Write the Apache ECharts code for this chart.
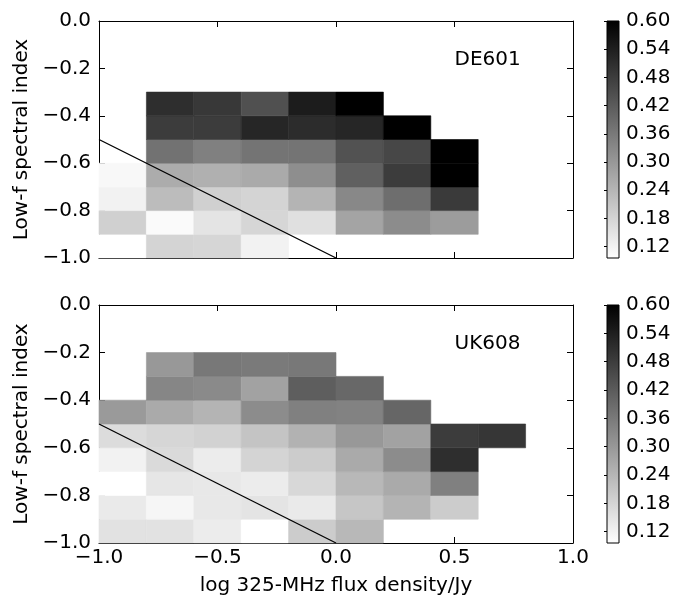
<!DOCTYPE html>
<html><head><meta charset="utf-8">
<script src="https://cdn.jsdelivr.net/npm/echarts@6/dist/echarts.min.js"></script>
<style>html,body{margin:0;padding:0;background:#fff}#c{width:684px;height:597px}</style>
</head><body><div id="c"></div>
<script>
// cell left edges (x) and bottom edges (y)
const xLeftEdges = [-1.0,-0.8,-0.6,-0.4,-0.2,0.0,0.2,0.4,0.6,0.8];
const yBottomEdges = [-1.0,-0.9,-0.8,-0.7,-0.6,-0.5,-0.4,-0.3,-0.2,-0.1];
const cellWidth = 0.2, cellHeight = 0.1;

// DE601: rows by bottom edge (from -1.0 upward), columns by xLeftEdges
const de601Rows = [
  [0.096, 0.181, 0.177, 0.122],
  [0.189, 0.106, 0.149, 0.177, 0.157, 0.276, 0.323, 0.292],
  [0.122, 0.228, 0.189, 0.181, 0.244, 0.331, 0.383, 0.485],
  [0.110, 0.260, 0.252, 0.264, 0.319, 0.410, 0.481, 0.600],
  [null, 0.375, 0.347, 0.371, 0.371, 0.438, 0.460, 0.600],
  [null, 0.481, 0.481, 0.525, 0.513, 0.525, 0.600],
  [null, 0.509, 0.489, 0.442, 0.545, 0.600],
  [], [], []
];
// UK608
const uk608Rows = [
  [0.153, 0.153, 0.134, 0.096, 0.197, 0.236],
  [0.137, 0.114, 0.141, 0.149, 0.137, 0.209, 0.244, 0.197],
  [0.096, 0.145, 0.141, 0.134, 0.173, 0.236, 0.264, 0.347],
  [0.122, 0.169, 0.134, 0.181, 0.197, 0.264, 0.323, 0.509],
  [0.165, 0.177, 0.185, 0.213, 0.248, 0.300, 0.280, 0.481, 0.493],
  [0.296, 0.264, 0.244, 0.323, 0.347, 0.343, 0.398],
  [null, 0.335, 0.327, 0.280, 0.414, 0.394],
  [null, 0.300, 0.363, 0.359, 0.363],
  [], []
];

const colorbarTicks = [0.12, 0.18, 0.24, 0.30, 0.36, 0.42, 0.48, 0.54, 0.60];
const vmin = 0.096, vmax = 0.60;
const panelNames = ['DE601', 'UK608'];
const panelLabelPos = [0.5, -0.165];
const cutLine = [[-1.0, -0.5], [0.0, -1.0]];
const xLabelText = 'log 325-MHz flux density/Jy';
const yLabelText = 'Low-f spectral index';

function cells(rows) {
  const out = [];
  rows.forEach((row, i) => {
    row.forEach((v, j) => {
      if (v != null) out.push([xLeftEdges[j], yBottomEdges[i], v]);
    });
  });
  return out;
}

const FONT = 'DejaVu Sans';
const fmt1 = v => (Math.abs(v) < 1e-9 ? '0.0' : v.toFixed(1)).replace('-', '\u2212');

const grids = [
  {left: 99, top: 21, width: 474, height: 237},
  {left: 99, top: 305, width: 474, height: 238},
  {left: 607, top: 21, width: 12, height: 237},
  {left: 607, top: 305, width: 12, height: 238}
];

const axLine = {show: true, onZero: false, lineStyle: {color: '#000', width: 1}};
const tickIn = {show: true, inside: true, length: 6, lineStyle: {color: '#000', width: 1}};

function xAx(grid, pos, showLabels, name) {
  return {
    type: 'value', gridIndex: grid, position: pos, min: -1, max: 1, interval: 0.5,
    axisLine: axLine, axisTick: tickIn, splitLine: {show: false},
    axisLabel: {show: showLabels, formatter: fmt1, fontFamily: FONT, fontSize: 20, color: '#000', margin: 5},
    name: name || '', nameLocation: 'middle', nameGap: 33,
    nameTextStyle: {fontFamily: FONT, fontSize: 20, color: '#000'}
  };
}
function yAx(grid, pos, showLabels, name) {
  return {
    type: 'value', gridIndex: grid, position: pos, min: -1, max: 0, interval: 0.2,
    axisLine: axLine, axisTick: tickIn, splitLine: {show: false},
    axisLabel: {show: showLabels, formatter: fmt1, fontFamily: FONT, fontSize: 20, color: '#000', margin: 8},
    name: name || '', nameLocation: 'middle', nameGap: 64,
    nameTextStyle: {fontFamily: FONT, fontSize: 20, color: '#000'}
  };
}
function cbX(grid) {
  return {type: 'value', gridIndex: grid, min: 0, max: 1, show: false};
}
function cbY(grid) {
  return {
    type: 'value', gridIndex: grid, position: 'right', min: vmin, max: vmax,
    axisLine: {show: false}, splitLine: {show: false},
    axisTick: {show: true, inside: true, length: 3, customValues: colorbarTicks, lineStyle: {color: '#000'}},
    axisLabel: {show: true, customValues: colorbarTicks, formatter: v => v.toFixed(2),
      fontFamily: FONT, fontSize: 20, color: '#000', margin: 7}
  };
}

function renderCell(params, api) {
  const x0 = api.value(0), y0 = api.value(1);
  const p0 = api.coord([x0, y0 + cellHeight]);
  const p1 = api.coord([x0 + cellWidth, y0]);
  const c = api.visual('color');
  return {type: 'rect', shape: {x: p0[0], y: p0[1], width: p1[0] - p0[0], height: p1[1] - p0[1]},
    style: {fill: c, stroke: c, lineWidth: 0.6}};
}
function renderBar(params, api) {
  const p0 = api.coord([0, vmax]);
  const p1 = api.coord([1, vmin]);
  return {type: 'rect', shape: {x: p0[0], y: p0[1], width: p1[0] - p0[0], height: p1[1] - p0[1]},
    style: {fill: new echarts.graphic.LinearGradient(0, 0, 0, 1, [{offset: 0, color: '#000'}, {offset: 1, color: '#fff'}]),
      stroke: '#000', lineWidth: 1}};
}

function panelSeries(idx, rows) {
  return [
    {type: 'custom', xAxisIndex: idx * 2, yAxisIndex: idx * 2, data: cells(rows), renderItem: renderCell,
      encode: {x: 0, y: 1}, z: 1, silent: true},
    {type: 'line', xAxisIndex: idx * 2, yAxisIndex: idx * 2, data: cutLine, showSymbol: false,
      lineStyle: {color: '#000', width: 1.3}, z: 5, silent: true},
    {type: 'scatter', xAxisIndex: idx * 2, yAxisIndex: idx * 2, symbolSize: 0, z: 6, silent: true,
      itemStyle: {opacity: 1},
      data: [{value: panelLabelPos, name: panelNames[idx]}],
      label: {show: true, position: 'right', distance: 0, formatter: '{b}', fontFamily: FONT, fontSize: 20,
        color: '#000', opacity: 1}}
  ];
}

const option = {
  animation: false,
  backgroundColor: '#fff',
  textStyle: {fontFamily: FONT},
  grid: grids,
  xAxis: [
    xAx(0, 'bottom', false), xAx(0, 'top', false),
    xAx(1, 'bottom', true, xLabelText), xAx(1, 'top', false),
    cbX(2), cbX(3)
  ],
  yAxis: [
    yAx(0, 'left', true, yLabelText), yAx(0, 'right', false),
    yAx(1, 'left', true, yLabelText), yAx(1, 'right', false),
    cbY(2), cbY(3)
  ],
  visualMap: [{type: 'continuous', show: false, min: vmin, max: vmax, dimension: 2,
    seriesIndex: [0, 3], inRange: {color: ['#ffffff', '#000000']}}],
  series: [
    ...panelSeries(0, de601Rows),
    ...panelSeries(1, uk608Rows),
    {type: 'custom', xAxisIndex: 4, yAxisIndex: 4, data: [[0, vmin]], renderItem: renderBar, silent: true},
    {type: 'custom', xAxisIndex: 5, yAxisIndex: 5, data: [[0, vmin]], renderItem: renderBar, silent: true}
  ]
};

const chart = echarts.init(document.getElementById('c'), null, {renderer: 'canvas'});
chart.setOption(option);
</script>
</body></html>
